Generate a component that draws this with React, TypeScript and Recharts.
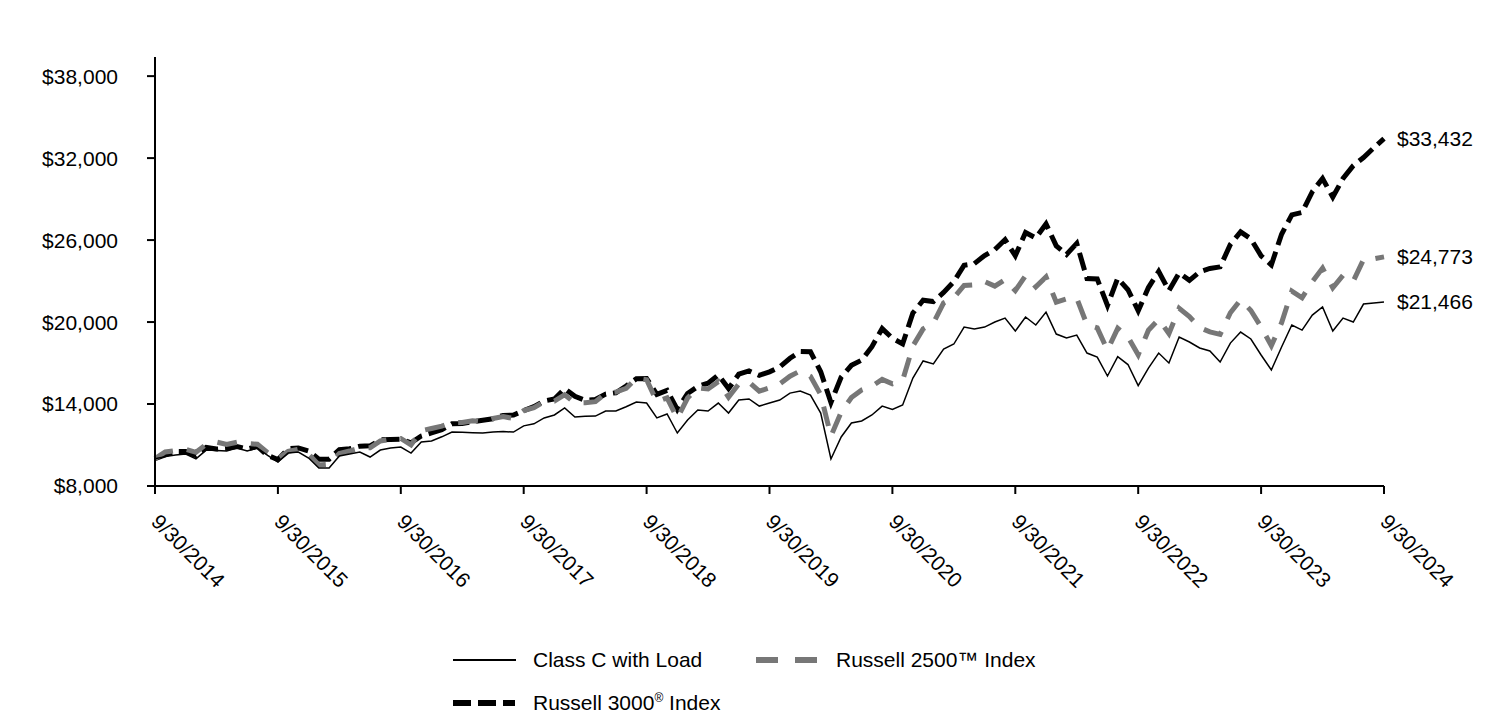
import React from 'react';
import { LineChart, Line, XAxis, YAxis, LabelList } from 'recharts';

// x-axis labels, one per year (every 12th month)
const tickLabels = [
  '9/30/2014', '9/30/2015', '9/30/2016', '9/30/2017', '9/30/2018', '9/30/2019',
  '9/30/2020', '9/30/2021', '9/30/2022', '9/30/2023', '9/30/2024',
];
const yTicks = [8000, 14000, 20000, 26000, 32000, 38000];

// month-end values, 9/2014 .. 9/2024
const classC = [
  10000, 10150, 10270, 10340, 9990, 10630, 10600, 10560, 10780, 10560, 10780, 10250,
  9760, 10410, 10490, 10050, 9320, 9320, 10200, 10350, 10490, 10120, 10630, 10780,
  10850, 10410, 11220, 11290, 11600, 11950, 11930, 11900, 11880, 11950, 11980, 11950,
  12400, 12550, 12980, 13200, 13710, 13050, 13100, 13120, 13490, 13490, 13800, 14150,
  14070, 12980, 13270, 11880, 12830, 13560, 13490, 14070, 13340, 14290, 14370, 13850,
  14070, 14290, 14800, 14950, 14660, 13340, 9980, 11590, 12610, 12760, 13200, 13850,
  13600, 13930, 15900, 17150, 16930, 18020, 18390, 19630, 19490, 19630, 20000, 20290,
  19340, 20370, 19780, 20730, 19120, 18830, 19050, 17730, 17440, 16050, 17470, 16890,
  15350, 16630, 17730, 17000, 18900, 18540, 18100, 17880, 17070, 18460, 19270, 18760,
  17590, 16490, 18170, 19780, 19410, 20510, 21100, 19340, 20290, 20000, 21320, 21390,
  21466,
];

const russell2500 = [
  10000, 10490, 10595, 10680, 10465, 11050, 11215, 11035, 11200, 11100, 11055, 10435,
  10000, 10535, 10690, 10325, 9540, 9600, 10380, 10560, 10780, 10800, 11300, 11420,
  11480, 11010, 12045, 12210, 12380, 12640, 12650, 12780, 12690, 12940, 13080, 12940,
  13520, 13740, 14170, 14210, 14680, 14080, 14090, 14170, 14780, 14870, 15140, 15900,
  15780, 14170, 14450, 12950, 14440, 15190, 15100, 15640, 14500, 15470, 15610, 14940,
  15180, 15480, 16040, 16420, 16030, 14680, 11650, 13410, 14470, 15030, 15300, 15800,
  15480, 15730, 18250, 19500, 19920, 21400, 21790, 22680, 22730, 22970, 22630, 23100,
  22300, 23400, 22580, 23300, 21450, 21690, 21750, 19800, 19570, 17950, 19540, 18900,
  17600, 19400, 20200, 19150, 21000, 20400, 19600, 19280, 19100, 20680, 21630, 20850,
  19640, 18270, 19950, 22270, 21780, 22960, 23950, 22510, 23430, 22990, 24580, 24630,
  24773,
];

const russell3000 = [
  10000, 10275, 10522, 10520, 10225, 10818, 10708, 10756, 10896, 10714, 10893, 10235,
  9937, 10722, 10786, 10562, 9966, 9963, 10658, 10724, 10916, 10940, 11373, 11403,
  11421, 11164, 11663, 11890, 12114, 12564, 12573, 12708, 12812, 12927, 13169, 13194,
  13516, 13808, 14226, 14366, 15123, 14565, 14274, 14327, 14730, 14826, 15317, 15845,
  15872, 14705, 14999, 13603, 14771, 15287, 15521, 16131, 15128, 16184, 16425, 16098,
  16357, 16714, 17351, 17842, 17822, 16362, 14106, 15974, 16829, 17214, 18200, 19520,
  18811, 18405, 20658, 21596, 21501, 22170, 22957, 24158, 24276, 24873, 25298, 26029,
  24858, 26553, 26149, 27179, 25576, 24947, 25755, 23182, 23157, 21212, 23206, 22364,
  20827, 22526, 23702, 22294, 23600, 23050, 23670, 23920, 24040, 25680, 26600, 26090,
  24850, 24180, 26430, 27840, 28020, 29540, 30510, 29150, 30510, 31450, 32040, 32750,
  33432,
];

const data = classC.map((v, i) => ({
  month: i,
  classC: v,
  r2500: russell2500[i],
  r3000: russell3000[i],
}));

const LAST = classC.length - 1;
const FONT = '"Liberation Sans", Arial, sans-serif';
const FS = 21;
const money = (v: number) => '$' + Number(v).toLocaleString('en-US');

const XTick = ({ x, y, payload }: any) => {
  const tx = x - 5;
  const ty = y + 27;
  return (
    <text x={tx} y={ty} transform={`rotate(45, ${tx}, ${ty})`} fontSize={FS} fontFamily={FONT} fill="#000">
      {tickLabels[Math.round(payload.value / 12)]}
    </text>
  );
};

const endLabel = (props: any) => {
  if (props.index !== LAST) return <g />;
  return (
    <text x={props.x + 13} y={props.y} dy="0.35em" fontSize={FS} fontFamily={FONT} fill="#000">
      {money(props.value)}
    </text>
  );
};

const LegendItem = ({ left, top, icon, children }: any) => (
  <div style={{ position: 'absolute', left, top, height: 24, display: 'flex', alignItems: 'center', whiteSpace: 'nowrap' }}>
    <svg width={64} height={10} style={{ marginRight: 16 }}>{icon}</svg>
    <span style={{ fontSize: FS, color: '#000' }}>{children}</span>
  </div>
);

export default function App() {
  return (
    <div style={{ position: 'relative', width: 1496, height: 702, fontFamily: FONT }}>
      <LineChart width={1496} height={620} data={data} margin={{ top: 49, right: 120, left: 87, bottom: 32 }}>
        <XAxis
          dataKey="month"
          type="number"
          domain={[0, 120]}
          ticks={tickLabels.map((_, k) => k * 12)}
          height={110}
          axisLine={{ stroke: '#000', strokeWidth: 2 }}
          tickLine={{ stroke: '#000', strokeWidth: 2 }}
          tickSize={8}
          tick={<XTick />}
          interval={0}
        />
        <YAxis
          type="number"
          domain={[8000, 39400]}
          ticks={yTicks}
          width={60}
          allowDataOverflow
          axisLine={{ stroke: '#000', strokeWidth: 2 }}
          tickLine={{ stroke: '#000', strokeWidth: 2 }}
          tickSize={8}
          tickMargin={29}
          tickFormatter={money}
          tick={{ fontSize: FS, fontFamily: FONT, fill: '#000' }}
        />
        <Line type="linear" dataKey="r3000" stroke="#000" strokeWidth={5} strokeDasharray="18 7" dot={false} isAnimationActive={false}>
          <LabelList dataKey="r3000" content={endLabel} />
        </Line>
        <Line type="linear" dataKey="r2500" stroke="#777777" strokeWidth={5} strokeDasharray="20 14" dot={false} isAnimationActive={false}>
          <LabelList dataKey="r2500" content={endLabel} />
        </Line>
        <Line type="linear" dataKey="classC" stroke="#000" strokeWidth={1.5} dot={false} isAnimationActive={false}>
          <LabelList dataKey="classC" content={endLabel} />
        </Line>
      </LineChart>

      <LegendItem
        left={445}
        top={640}
        icon={<line x1={0} y1={5} x2={63} y2={5} stroke="#000" strokeWidth={2} />}
      >
        Class C with Load
      </LegendItem>
      <LegendItem
        left={748}
        top={640}
        icon={<line x1={0} y1={5} x2={62} y2={5} stroke="#777777" strokeWidth={6} strokeDasharray="22 17" />}
      >
        Russell 2500™ Index
      </LegendItem>
      <LegendItem
        left={445}
        top={683}
        icon={<line x1={0} y1={5} x2={62} y2={5} stroke="#000" strokeWidth={6} strokeDasharray="18 7" />}
      >
        Russell 3000<sup style={{ fontSize: 12, verticalAlign: 'super', lineHeight: 0 }}>®</sup> Index
      </LegendItem>
    </div>
  );
}
